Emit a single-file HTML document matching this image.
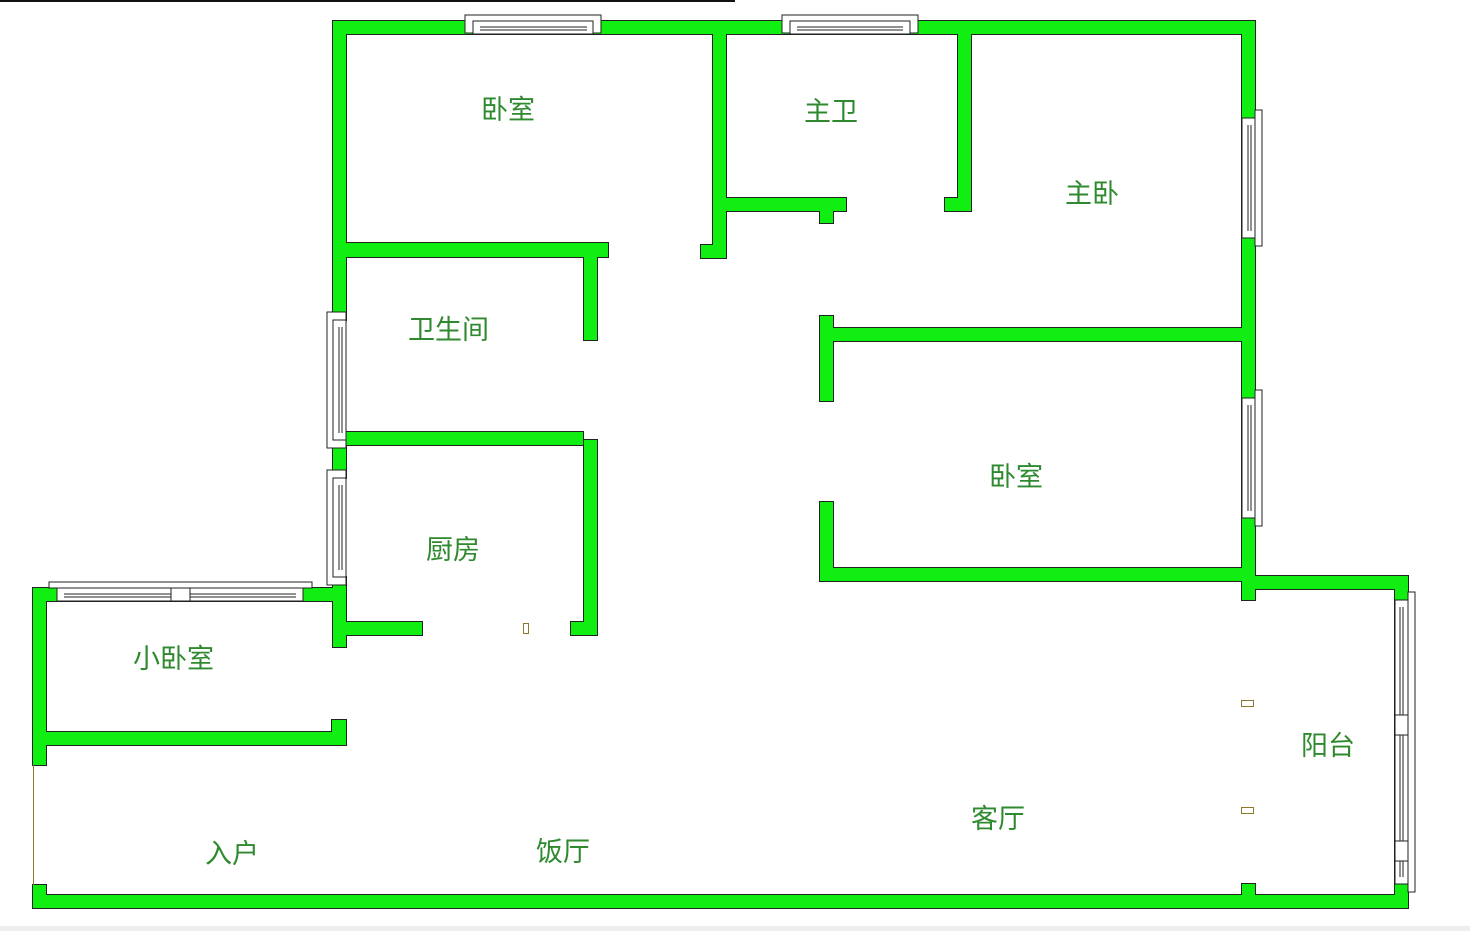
<!DOCTYPE html>
<html><head><meta charset="utf-8"><style>
html,body{margin:0;padding:0;background:#fff;}
svg{display:block}
text{font-family:"Liberation Sans","Noto Sans CJK SC",sans-serif;font-size:27px;fill:#2f8a2f;}
</style></head><body>
<svg width="1470" height="931" viewBox="0 0 1470 931" xmlns="http://www.w3.org/2000/svg">
<rect x="0" y="0" width="735" height="2" fill="#111"/>
<rect x="0" y="926" width="1470" height="5" fill="#eee"/>
<g id="w">
<rect x="333" y="21" width="922" height="13"/>
<rect x="333" y="21" width="13" height="299"/>
<rect x="333" y="435" width="13" height="43"/>
<rect x="333" y="577" width="13" height="70"/>
<rect x="333" y="243" width="275" height="14"/>
<rect x="584" y="257" width="13" height="83"/>
<rect x="346" y="432" width="237" height="13"/>
<rect x="584" y="440" width="13" height="195"/>
<rect x="346" y="622" width="76" height="13"/>
<rect x="571" y="622" width="26" height="13"/>
<rect x="33" y="588" width="313" height="13"/>
<rect x="33" y="588" width="13" height="177"/>
<rect x="33" y="885" width="13" height="23"/>
<rect x="46" y="732" width="300" height="13"/>
<rect x="332" y="720" width="14" height="25"/>
<rect x="33" y="895" width="1375" height="13"/>
<rect x="1395" y="576" width="13" height="332"/>
<rect x="1248" y="576" width="160" height="13"/>
<rect x="820" y="568" width="435" height="13"/>
<rect x="820" y="502" width="13" height="79"/>
<rect x="820" y="328" width="435" height="13"/>
<rect x="820" y="316" width="13" height="85"/>
<rect x="1242" y="21" width="13" height="579"/>
<rect x="1242" y="884" width="13" height="13"/>
<rect x="713" y="34" width="13" height="224"/>
<rect x="701" y="245" width="25" height="13"/>
<rect x="726" y="198" width="120" height="13"/>
<rect x="820" y="211" width="13" height="12"/>
<rect x="958" y="34" width="13" height="177"/>
<rect x="945" y="198" width="26" height="13"/>
</g>
<use href="#w" fill="#11ee11" stroke="#222" stroke-width="2"/>
<use href="#w" fill="#11ee11"/>
<g fill="#fff" stroke="#222" stroke-width="1">
<!-- top windows -->
<rect x="465" y="15" width="136" height="18"/>
<rect x="473" y="21" width="120" height="13"/>
<line x1="480" y1="27" x2="587" y2="27"/><line x1="480" y1="30" x2="587" y2="30"/>
<rect x="782" y="15" width="136" height="18"/>
<rect x="790" y="21" width="120" height="13"/>
<line x1="797" y1="27" x2="903" y2="27"/><line x1="797" y1="30" x2="903" y2="30"/>
<!-- left windows -->
<rect x="327" y="312" width="19" height="136"/>
<rect x="333" y="320" width="13" height="120"/>
<line x1="339" y1="327" x2="339" y2="433"/><line x1="342" y1="327" x2="342" y2="433"/>
<rect x="327" y="470" width="19" height="115"/>
<rect x="333" y="478" width="13" height="99"/>
<line x1="339" y1="485" x2="339" y2="570"/><line x1="342" y1="485" x2="342" y2="570"/>
<!-- small bedroom window -->
<rect x="49" y="582" width="263" height="6"/>
<rect x="57" y="588" width="246" height="13"/>
<line x1="64" y1="594" x2="296" y2="594"/><line x1="64" y1="597" x2="296" y2="597"/>
<rect x="171" y="588" width="19" height="13"/>
<!-- right windows -->
<rect x="1255" y="110" width="7" height="136"/>
<rect x="1242" y="118" width="13" height="120"/>
<line x1="1248" y1="125" x2="1248" y2="231"/><line x1="1251" y1="125" x2="1251" y2="231"/>
<rect x="1255" y="390" width="7" height="136"/>
<rect x="1242" y="398" width="13" height="120"/>
<line x1="1248" y1="405" x2="1248" y2="511"/><line x1="1251" y1="405" x2="1251" y2="511"/>
<!-- balcony window -->
<rect x="1408" y="592" width="7" height="300"/>
<rect x="1395" y="600" width="13" height="284"/>
<line x1="1400" y1="607" x2="1400" y2="877"/><line x1="1403" y1="607" x2="1403" y2="877"/>
<rect x="1395" y="715" width="13" height="20"/>
<rect x="1395" y="841" width="13" height="20"/>
</g>
<g fill="none" stroke="#8a7a30" stroke-width="1">
<rect x="523.5" y="623.5" width="5" height="10"/>
<rect x="1241.5" y="700.5" width="12" height="6"/>
<rect x="1241.5" y="807.5" width="12" height="6"/>
<line x1="33.5" y1="765" x2="33.5" y2="885"/>
</g>
<text x="481" y="119">卧室</text>
<text x="804" y="121">主卫</text>
<text x="1065" y="203">主卧</text>
<text x="408" y="339">卫生间</text>
<text x="989" y="486">卧室</text>
<text x="426" y="559">厨房</text>
<text x="133" y="668">小卧室</text>
<text x="1301" y="755">阳台</text>
<text x="971" y="828">客厅</text>
<text x="205" y="863">入户</text>
<text x="536" y="861">饭厅</text>
</svg>
</body></html>
